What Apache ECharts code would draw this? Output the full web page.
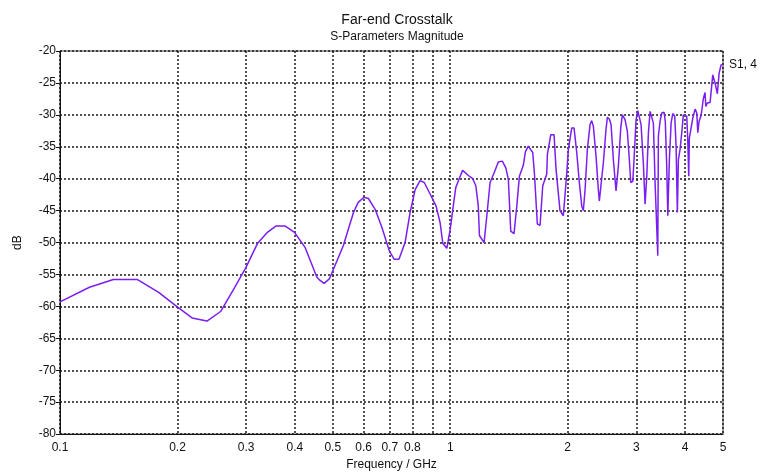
<!DOCTYPE html>
<html>
<head>
<meta charset="utf-8">
<script src="https://cdn.jsdelivr.net/npm/echarts@6/dist/echarts.min.js"></script>
<style>
html,body{margin:0;padding:0;background:#fff;}
#chart{width:773px;height:476px;}
</style>
</head>
<body>
<div id="chart"></div>
<script>
const titleText = 'Far-end Crosstalk';
const subtitleText = 'S-Parameters Magnitude';
const seriesName = 'S1, 4';
const xAxisName = 'Frequency / GHz';
const yAxisName = 'dB';
const xTickValues = [0.1,0.2,0.3,0.4,0.5,0.6,0.7,0.8,0.9,1,2,3,4,5];
const xLabelValues = [0.1,0.2,0.3,0.4,0.5,0.6,0.7,0.8,1,2,3,4,5];
const freq = [
0.100,0.119,0.137,0.158,0.179,0.199,0.218,0.238,0.258,0.278,0.299,0.321,0.340,0.358,0.377,0.399,
0.425,0.455,0.463,0.475,0.490,0.532,0.565,0.581,0.601,0.617,0.642,0.668,0.698,0.718,0.739,0.766,
0.789,0.813,0.837,0.858,0.888,0.920,0.942,0.957,0.980,1.000,1.018,1.033,1.053,1.076,1.113,1.142,
1.163,1.180,1.188,1.221,1.241,1.265,1.295,1.328,1.360,1.388,1.409,1.429,1.457,1.481,1.504,1.539,
1.558,1.585,1.627,1.643,1.672,1.699,1.726,1.767,1.774,1.810,1.845,1.867,1.911,1.949,1.989,2.008,
2.048,2.076,2.110,2.142,2.173,2.193,2.216,2.246,2.282,2.304,2.327,2.364,2.396,2.410,2.435,2.468,
2.507,2.527,2.557,2.583,2.618,2.660,2.697,2.735,2.761,2.805,2.844,2.877,2.901,2.936,2.958,2.994,
3.024,3.052,3.083,3.125,3.157,3.189,3.220,3.252,3.290,3.316,3.349,3.403,3.415,3.449,3.484,3.532,
3.557,3.589,3.610,3.644,3.681,3.717,3.761,3.791,3.820,3.843,3.881,3.920,3.957,4.000,4.037,4.061,
4.085,4.100,4.134,4.184,4.241,4.283,4.309,4.342,4.394,4.454,4.498,4.517,4.560,4.633,4.707,4.771,
4.836,4.886,4.943,5.000
];
const db = [
-59.3,-57.0,-55.8,-55.8,-57.8,-60.0,-61.8,-62.3,-60.8,-57.4,-54.0,-50.1,-48.4,-47.4,-47.4,-48.4,
-50.8,-55.4,-55.9,-56.4,-55.7,-50.5,-45.3,-43.7,-42.9,-43.1,-44.8,-47.6,-51.3,-52.6,-52.6,-50.0,
-45.3,-41.7,-40.3,-40.6,-42.4,-44.3,-46.9,-50.1,-50.9,-47.9,-44.3,-41.4,-40.1,-38.7,-39.5,-40.0,
-41.1,-44.3,-48.9,-50.0,-45.8,-40.6,-39.1,-37.4,-37.25,-38.3,-40.1,-48.2,-48.6,-44.3,-39.6,-37.9,
-35.8,-34.9,-35.9,-39.1,-47.1,-47.3,-41.1,-39.3,-36.2,-33.1,-33.1,-38.5,-45.0,-45.8,-39.1,-35.4,
-32.05,-32.05,-35.95,-40.6,-44.3,-45.0,-41.7,-35.4,-31.5,-30.9,-31.8,-36.5,-41.7,-43.5,-43.2,-37.5,
-32.3,-30.4,-30.65,-31.5,-37.0,-41.9,-38.0,-32.05,-30.0,-30.75,-32.6,-37.0,-40.6,-40.4,-37.0,-30.75,
-29.35,-29.6,-31.5,-37.5,-44.0,-39.6,-32.8,-29.45,-29.7,-31.3,-40.6,-52.05,-33.35,-31.0,-29.7,-29.6,
-31.0,-38.5,-45.8,-37.0,-31.3,-29.8,-30.2,-34.9,-45.3,-37.0,-35.4,-32.8,-30.0,-29.8,-30.2,-33.9,
-39.6,-33.6,-33.45,-30.5,-29.1,-29.7,-32.8,-31.0,-30.1,-27.4,-26.5,-28.7,-28.15,-28.05,-23.75,-25.0,
-26.7,-23.5,-22.2,-22.1
];

const chart = echarts.init(document.getElementById('chart'), null, {renderer:'canvas'});
const font = 'Liberation Sans, Arial, Helvetica, sans-serif';
const points = freq.map((f,i)=>[f, db[i]]);
const dotted = {color:'#1a1a1a', width:1.5, type:[2,2]};
chart.setOption({
  animation:false,
  backgroundColor:'#ffffff',
  textStyle:{fontFamily:font},
  title:{
    text:titleText, subtext:subtitleText, left:392, textAlign:'center', top:8, itemGap:4,
    textStyle:{fontFamily:font, fontSize:14, fontWeight:'normal', color:'#111'},
    subtextStyle:{fontFamily:font, fontSize:12, color:'#111'}
  },
  grid:{left:60, right:50, top:51, bottom:40, show:true, borderColor:'#444', borderWidth:1, backgroundColor:'transparent'},
  xAxis:{
    type:'log', logBase:10, min:0.1, max:5,
    name:xAxisName, nameLocation:'middle', nameGap:22,
    nameTextStyle:{fontFamily:font, fontSize:12, color:'#111'},
    axisLine:{show:true, onZero:false, lineStyle:{color:'#111', width:1}},
    axisTick:{show:false, customValues:xTickValues},
    axisLabel:{customValues:xLabelValues, fontFamily:font, fontSize:12, color:'#111', margin:8,
      formatter:(v)=>String(+v.toFixed(2))},
    splitLine:{show:true, lineStyle:dotted},
    minorTick:{show:false}, minorSplitLine:{show:false}
  },
  yAxis:{
    type:'value', min:-80, max:-20, interval:5,
    name:yAxisName, nameLocation:'middle', nameGap:36, nameRotate:90,
    nameTextStyle:{fontFamily:font, fontSize:12, color:'#111'},
    axisLine:{show:true, onZero:false, lineStyle:{color:'#111', width:1}},
    axisTick:{show:true, inside:false, length:4, lineStyle:{color:'#111'}},
    axisLabel:{fontFamily:font, fontSize:12, color:'#111', margin:4},
    splitLine:{show:true, lineStyle:dotted}
  },
  series:[{
    name:seriesName, type:'line', data:points, showSymbol:false, symbol:'none',
    lineStyle:{color:'#7a1ff0', width:1.5}, itemStyle:{color:'#7a1ff0'},
    clip:true,
    endLabel:{show:true, formatter:seriesName, color:'#111', fontFamily:font, fontSize:12, distance:6}
  }]
});
</script>
</body>
</html>
